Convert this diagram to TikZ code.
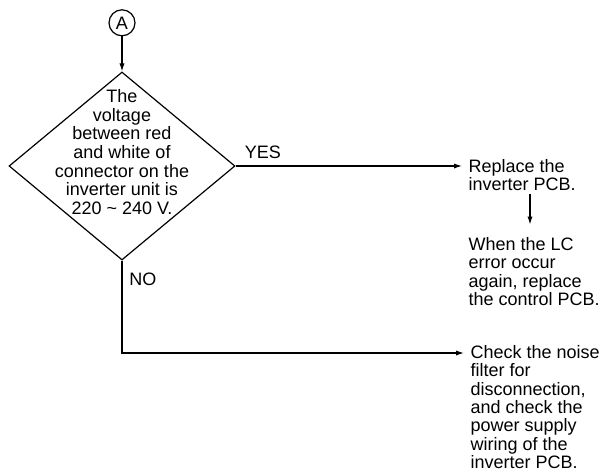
\documentclass[tikz,border=0pt]{standalone}
\usepackage{fontspec}
\setmainfont{Liberation Sans}
\usetikzlibrary{shapes.geometric, arrows.meta, positioning}

\begin{document}
\begin{tikzpicture}[x=0.5pt, y=-0.5pt, line width=0.6pt,
        font=\fontsize{9}{9.3}\selectfont,
        decision/.style={diamond, draw, minimum width=113pt, minimum height=94pt, inner sep=0pt},
        onpage/.style={circle, draw, minimum size=13pt, inner sep=0pt},
        note/.style={align=left, inner xsep=3pt, inner ysep=1pt, anchor=north west},
        flow/.style={-{Latex[length=4pt, width=2.6pt]}}]
        \useasboundingbox (0,0) rectangle (605,473);

        \node (check) [decision] at (122,166) {};
        \node (checktext) [align=center] at ([yshift=7pt]check.center) {The\\ voltage\\ between red\\ and white of\\ connector on the\\ inverter unit is\\ 220 \textasciitilde\ 240 V.};
        \node (A) [onpage, above=17.5pt of check] {A};

        \node (replace) [note] at (462,156.5) {Replace the\\ inverter PCB.};
        \node (lcnote) [note, below=20.5pt of replace.south west, anchor=north west] {When the LC\\ error occur\\ again, replace\\ the control PCB.};
        \node (noise) [note, font=\fontsize{9}{9.15}\selectfont] at (464,343) {Check the noise\\ filter for\\ disconnection,\\ and check the\\ power supply\\ wiring of the\\ inverter PCB.};

        \draw[flow] (A) -- (check);
        \draw[flow] (check.east) -- (check.east -| replace.west) node[pos=0.12, above] {YES};
        \draw[flow, shorten >=5pt] ([xshift=34pt]replace.south west) -- ([xshift=34pt]lcnote.north west);
        \draw[flow] (check.south) |- ([yshift=-5pt]noise.north west) node[pos=0.1, right] {NO};
    \end{tikzpicture}
\end{document}
